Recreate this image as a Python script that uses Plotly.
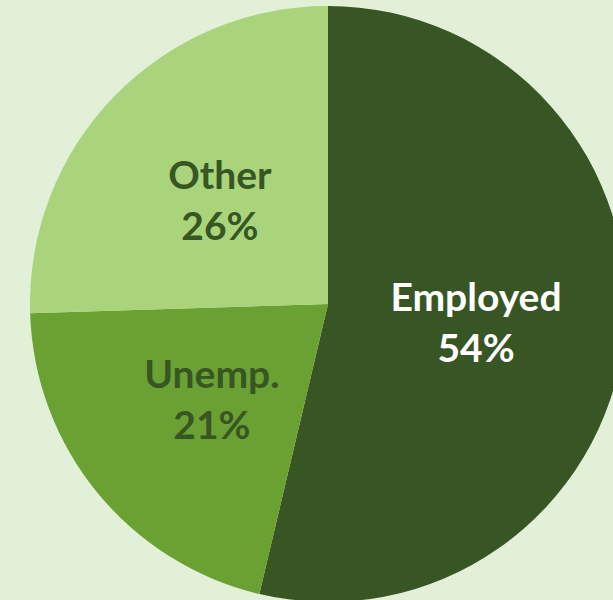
import plotly.graph_objects as go

# Data
labels = ['Employed', 'Unemp.', 'Other']
values = [53.7, 20.8, 25.5]

# Styles
SLICE_COLORS = ['#375623', '#6BA033', '#A9D47B']
TEXT_COLORS = ['#FFFFFF', '#375623', '#375623']
BG = '#E2F0D8'

W, H = 656, 608
CX, CY, R = 328, 304, 298
# radius of the (invisible) pie that carries each slice's label
LABEL_R = [R, 241, 258]

TEMPLATE = '<b>%{label}</b><br><b>%{percent:.0%}</b>'


def pie_domain(r):
    '''Domain for a pie of radius r centred on (CX, CY)'''
    return dict(x=[(CX - r) / W, (CX + r) / W],
                y=[(H - CY - r) / H, (H - CY + r) / H])


fig = go.Figure()

# the coloured pie
fig.add_trace(go.Pie(
    labels=labels,
    values=values,
    sort=False,
    direction='clockwise',
    rotation=0,
    marker=dict(colors=SLICE_COLORS, line=dict(width=0)),
    texttemplate=[TEMPLATE if r == R else '' for r in LABEL_R],
    textposition='inside',
    insidetextorientation='horizontal',
    textfont=dict(family='Lato', size=39, color=TEXT_COLORS),
    domain=pie_domain(R),
    hoverinfo='label+percent',
    showlegend=False,
))

# transparent copies that place the remaining labels a bit closer to the centre
for i, r in enumerate(LABEL_R):
    if r == R:
        continue
    fig.add_trace(go.Pie(
        labels=labels,
        values=values,
        sort=False,
        direction='clockwise',
        rotation=0,
        marker=dict(colors=['rgba(0,0,0,0)'] * len(values), line=dict(width=0)),
        texttemplate=[TEMPLATE if j == i else '' for j in range(len(values))],
        textposition='inside',
        insidetextorientation='horizontal',
        textfont=dict(family='Lato', size=39, color=TEXT_COLORS),
        domain=pie_domain(r),
        hoverinfo='skip',
        showlegend=False,
    ))

fig.update_layout(
    width=W,
    height=H,
    margin=dict(l=0, r=0, t=0, b=0),
    paper_bgcolor=BG,
    plot_bgcolor=BG,
)

fig.write_html(
    "out.html",
    config=dict(displayModeBar=False),
    post_script="document.body.style.margin='0';document.body.style.overflow='hidden';",
)
